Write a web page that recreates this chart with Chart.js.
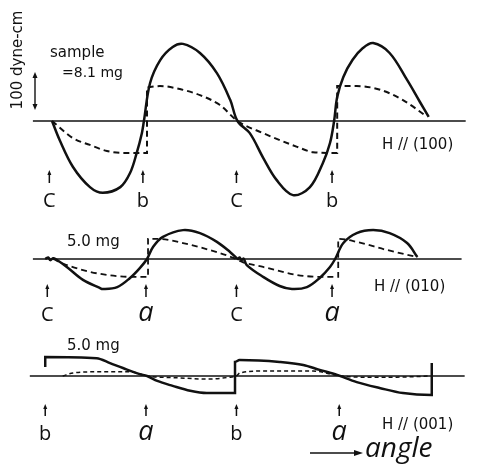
<!DOCTYPE html>
<html>
<head>
<meta charset="utf-8">
<script src="https://cdn.jsdelivr.net/npm/chart.js"></script>
<style>
  html, body { margin: 0; padding: 0; background: #fff; }
  #wrap { position: relative; width: 477px; height: 464px; }
</style>
</head>
<body>
<div id="wrap"><canvas id="myChart" width="477" height="464"></canvas></div>
<script>
// torque curves, angle in degrees, torque in dyne-cm
// H // (100), sample 8.1 mg
var h100Solid = [[0.6,0],[8,-50],[21,-121],[37.5,-174],[50,-189],[67,-174],[76.5,-137],[83,-84],[88,-32],[90,0],
  [96,100],[106,161],[118,195],[128,203],[144.5,179],[161,126],[174,55],[181,0],[193,-32],[206,-97],[219,-155],
  [235,-195],[251.5,-174],[264,-111],[271,-58],[275,0],[278,63],[284,116],[293,161],[303,192],[313,205],[329,179],
  [346,108],[358.5,50],[367,11]];
var h100Dash = [[0.6,0],[21,-45],[37.5,-63],[54,-79],[69.6,-84],[86,-84],[93,-84],[93,89],[105.6,92],[125,84],
  [144.5,68],[164,42],[181,0],[206,-32],[239,-68],[254.5,-82],[271,-84],[278,-84],[278,92],[297,92],[320,82],
  [342,55],[365,12]];
var h100Base = [[-18,0],[403,0]];

// H // (010), 5.0 mg
var h010Solid = [[-6,0],[-3,4],[-1,-3],[1.6,2],[4,0],[15,-21],[30.7,-55],[47,-76],[50,-79],[64,-74],[76.5,-50],
  [86,-24],[93,0],[99,32],[108.5,58],[128,76],[144.5,68],[161,45],[174,18],[181.5,0],[183,4],[185,-3],[187,1],
  [190,-16],[206,-47],[222,-71],[234,-79],[248.6,-74],[261,-50],[271,-21],[276,0],[284,42],[297,68],[313,76],
  [329,68],[346,42],[356,5]];
var h010Dash = [[1.6,0],[15,-16],[47,-39],[79,-47],[94,-47],[94,53],[103,53],[128,42],[161,18],[177,3],[186,-8],
  [206,-21],[239,-42],[261,-47],[279,-47],[279,53],[297,45],[326,24],[356,5]];
var h010Base = [[-18,0],[399,0]];

// H // (001), 5.0 mg
var h001Solid = [[-6,24],[-6,50],[44,47],[57,34],[69.6,21],[86,5],[93,0],[103,-13],[118,-26],[135,-39],[151,-45],
  [178.6,-45],[178.6,37],[183,42],[222,37],[245,29],[261,16],[278,3],[281,0],[297,-16],[320,-32],[342,-45],
  [370,-50],[370,34]];
var h001Dash = [[11,0],[21,8],[44,11],[76.5,11],[93,0],[125,-5],[151,-8],[174,-3],[180,0],[183.4,8],[206,13],
  [254.5,13],[281,0],[303,-3],[336,-3],[368,0]];
var h001Base = [[-21,0],[402,0]];

// axis markers under each panel
var marks100 = [-2, 89, 180, 273];
var letters100 = ["C", "b", "C", "b"];
var marks010 = [-4, 92, 180, 273];
var letters010 = ["C", "a", "C", "a"];
var marks001 = [-6, 92, 180, 280];
var letters001 = ["b", "a", "b", "a"];

var pxPerUnit = 0.38; // 100 dyne-cm = 38 px
var basePx = [121, 259, 376];
var H = 464;

function pts(a) {
  return a.map(function (p) { return { x: p[0], y: p[1] }; });
}
function yRange(b) {
  return { min: -(H - b) / pxPerUnit, max: b / pxPerUnit };
}

var ink = "#111";
// smooth curve, no jumps
function smooth(d, axis) {
  return { data: pts(d), yAxisID: axis, borderColor: ink, borderWidth: 2.5, pointRadius: 0,
    tension: 0.35, fill: false };
}
// curve with vertical jumps
function stepped(d, axis) {
  return { data: pts(d), yAxisID: axis, borderColor: ink, borderWidth: 2.5, pointRadius: 0,
    cubicInterpolationMode: "monotone", fill: false };
}
function dashed(d, axis, w, dash) {
  return { data: pts(d), yAxisID: axis, borderColor: ink, borderWidth: w, borderDash: dash, pointRadius: 0,
    cubicInterpolationMode: "monotone", fill: false };
}
function baseLine(d, axis) {
  return { data: pts(d), yAxisID: axis, borderColor: ink, borderWidth: 1.5, pointRadius: 0, tension: 0 };
}

function arrowUp(ctx, x, y0, y1) {
  ctx.lineWidth = 1.5;
  ctx.beginPath(); ctx.moveTo(x, y1); ctx.lineTo(x, y0 + 3); ctx.stroke();
  ctx.beginPath(); ctx.moveTo(x, y0); ctx.lineTo(x - 2, y0 + 5); ctx.lineTo(x + 2, y0 + 5); ctx.closePath(); ctx.fill();
}

var labelsPlugin = {
  id: "labels",
  afterDraw: function (chart) {
    var ctx = chart.ctx;
    var xs = chart.scales.x;
    ctx.save();
    ctx.fillStyle = ink;
    ctx.strokeStyle = ink;
    ctx.textAlign = "center";
    ctx.textBaseline = "alphabetic";

    function row(marks, letters, a0, a1, ty) {
      for (var i = 0; i < marks.length; i++) {
        var px = xs.getPixelForValue(marks[i]);
        arrowUp(ctx, px, a0, a1);
        if (letters[i] == "a") ctx.font = "italic 27px 'Open Sans'";
        else ctx.font = "20px 'Open Sans'";
        ctx.fillText(letters[i], px, ty);
      }
    }
    row(marks100, letters100, 170, 183, 207);
    row(marks010, letters010, 284, 297, 321);
    row(marks001, letters001, 404, 416, 440);

    ctx.textAlign = "left";
    ctx.font = "15px 'DejaVu Sans'";
    ctx.fillText("sample", 50, 57);
    ctx.font = "14px 'DejaVu Sans'";
    ctx.fillText("=8.1 mg", 62, 77);
    ctx.font = "15px 'DejaVu Sans'";
    ctx.fillText("5.0 mg", 67, 246);
    ctx.fillText("5.0 mg", 67, 350);
    ctx.fillText("H // (100)", 382, 149);
    ctx.fillText("H // (010)", 374, 291);
    ctx.fillText("H // (001)", 382, 429);

    // scale bar
    ctx.save();
    ctx.translate(22, 60);
    ctx.rotate(-Math.PI / 2);
    ctx.textAlign = "center";
    ctx.fillText("100 dyne-cm", 0, 0);
    ctx.restore();
    ctx.lineWidth = 1.4;
    ctx.beginPath(); ctx.moveTo(35, 75); ctx.lineTo(35, 107); ctx.stroke();
    ctx.beginPath(); ctx.moveTo(35, 72); ctx.lineTo(32.5, 78); ctx.lineTo(37.5, 78); ctx.closePath(); ctx.fill();
    ctx.beginPath(); ctx.moveTo(35, 110); ctx.lineTo(32.5, 104); ctx.lineTo(37.5, 104); ctx.closePath(); ctx.fill();

    // angle arrow
    ctx.lineWidth = 1.4;
    ctx.beginPath(); ctx.moveTo(310, 453); ctx.lineTo(356, 453); ctx.stroke();
    ctx.beginPath(); ctx.moveTo(363, 453); ctx.lineTo(354, 450); ctx.lineTo(354, 456); ctx.closePath(); ctx.fill();
    ctx.font = "italic 28px 'Open Sans'";
    ctx.fillText("angle", 365, 457);
    ctx.restore();
  }
};

var r1 = yRange(basePx[0]), r2 = yRange(basePx[1]), r3 = yRange(basePx[2]);

var ctx = document.getElementById("myChart").getContext("2d");
var myChart = new Chart(ctx, {
  type: "line",
  data: {
    datasets: [
      baseLine(h100Base, "y1"), smooth(h100Solid, "y1"), dashed(h100Dash, "y1", 2, [6, 4]),
      baseLine(h010Base, "y2"), smooth(h010Solid, "y2"), dashed(h010Dash, "y2", 1.8, [6, 4]),
      baseLine(h001Base, "y3"), stepped(h001Solid, "y3"), dashed(h001Dash, "y3", 1.5, [4, 3])
    ]
  },
  options: {
    responsive: false,
    animation: false,
    layout: { padding: 0 },
    plugins: { legend: { display: false }, tooltip: { enabled: false } },
    scales: {
      x: { type: "linear", min: -50, max: 414, display: false },
      y1: { type: "linear", min: r1.min, max: r1.max, display: false },
      y2: { type: "linear", min: r2.min, max: r2.max, display: false },
      y3: { type: "linear", min: r3.min, max: r3.max, display: false }
    }
  },
  plugins: [labelsPlugin]
});
</script>
</body>
</html>
